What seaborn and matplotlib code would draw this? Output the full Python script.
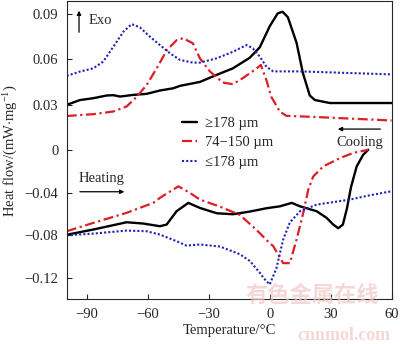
import numpy as np
import pandas as pd
import matplotlib
matplotlib.use("Agg")
import matplotlib.pyplot as plt
import seaborn as sns

# ---------------- data ----------------
# Cooling curves (upper group)
cool_black_T = [-100, -93.4, -86.9, -80.3, -77, -73.7, -67.2, -60.6, -54.1, -47.5, -44.2,
                -34.4, -26.1, -18.2, -9.9, -4.9, 0, 3.9, 6.3, 8.9, 13.2, 16.3, 19.7, 22.2,
                29.6, 44.4, 60]
cool_black_Q = [0.0298, 0.033, 0.0342, 0.036, 0.0362, 0.0353, 0.0364, 0.0371, 0.0393, 0.0408,
                0.0424, 0.045, 0.0497, 0.054, 0.061, 0.068, 0.082, 0.0905, 0.0916, 0.088,
                0.071, 0.051, 0.036, 0.033, 0.031, 0.031, 0.031]

cool_red_T = [-100, -86.9, -77, -70.5, -65.6, -60.6, -55.7, -50.7, -45.8, -42.7, -37.9,
              -34.4, -29.5, -23.1, -18.2, -13.3, -6.4, -4.4, -1.6, 0.8, 4.9, 8.2, 23, 60]
cool_red_Q = [0.0224, 0.0236, 0.0254, 0.0287, 0.035, 0.043, 0.054, 0.066, 0.0728, 0.074,
              0.0707, 0.0607, 0.052, 0.0446, 0.0435, 0.0475, 0.054, 0.0563, 0.046, 0.035,
              0.0254, 0.0225, 0.0217, 0.0194]

cool_blue_T = [-100, -93.4, -86.9, -82, -77, -72.1, -68, -63.9, -59, -54.1, -49.1, -44.2,
               -37.8, -34.4, -26.1, -18.2, -11.4, -8.3, -4.9, -1.6, 1.7, 14.9, 60]
cool_blue_Q = [0.049, 0.0519, 0.054, 0.0585, 0.0684, 0.0783, 0.0834, 0.0812, 0.075, 0.0695,
               0.064, 0.0596, 0.0578, 0.0578, 0.0607, 0.065, 0.0695, 0.0673, 0.0618, 0.055,
               0.052, 0.052, 0.050]

# Heating curves (lower group)
heat_black_T = [-100, -86.9, -70.5, -62.3, -54.1, -50.8, -45.9, -40.1, -34.4, -26.1, -18.1,
                -9.8, -1.6, 5, 10.8, 14.9, 23.1, 28, 31.3, 33.7, 36, 38, 40, 42.8, 46, 48.5]
heat_black_Q = [-0.0795, -0.0746, -0.0678, -0.069, -0.0715, -0.070, -0.0575, -0.0497, -0.0544,
                -0.0594, -0.0603, -0.0578, -0.0547, -0.0529, -0.0497, -0.0529, -0.0575,
                -0.0637, -0.070, -0.0734, -0.070, -0.055, -0.035, -0.0156, -0.0047, 0.0]

heat_red_T = [-100, -86.9, -70.5, -57.4, -54.1, -45, -39.3, -34.4, -24.5, -14.7, -6.5, 0,
              1.7, 5, 6.6, 9.9, 13.2, 16.5, 19, 21.4, 26.3, 34.6, 41.1, 48.5]
heat_red_Q = [-0.0762, -0.0684, -0.059, -0.0497, -0.045, -0.0342, -0.0404, -0.0466, -0.0532,
              -0.061, -0.075, -0.0874, -0.090, -0.101, -0.106, -0.106, -0.084, -0.059,
              -0.037, -0.025, -0.0156, -0.0078, -0.003, 0.0]

heat_blue_T = [-100, -86.9, -70.5, -60.7, -54.1, -45.9, -41, -34.4, -24.5, -14.7, -9.8, -4.9,
               -3, 0, 3.3, 6.6, 9.9, 14.9, 23.1, 39.5, 48.5, 60]
heat_blue_Q = [-0.080, -0.0784, -0.0756, -0.0762, -0.0793, -0.0855, -0.0896, -0.0886, -0.0905,
               -0.0977, -0.104, -0.115, -0.12, -0.126, -0.1107, -0.084, -0.068, -0.0575,
               -0.0513, -0.0466, -0.0429, -0.0388]

labels = ["\u2265178 \u00b5m", "74\u2212150 \u00b5m", "\u2264178 \u00b5m"]
x_ticks = [-90, -60, -30, 0, 30, 60]
y_ticks = [0.09, 0.06, 0.03, 0, -0.04, -0.08, -0.12]
y_ticklabels = ["0.09", "0.06", "0.03", "0", "\u22120.04", "\u22120.08", "\u22120.12"]

# ---------------- style ----------------
sns.set_style("ticks")
plt.rcParams["font.family"] = ["Liberation Serif", "DejaVu Serif"]
plt.rcParams["mathtext.fontset"] = "custom"
plt.rcParams["mathtext.rm"] = "Liberation Serif"
plt.rcParams["mathtext.it"] = "Liberation Serif:italic"
plt.rcParams["axes.linewidth"] = 0.8
FS = 10.5

fig = plt.figure(figsize=(4.0, 3.44), dpi=100)
ax = fig.add_axes([0.1667, 0.1294, 0.8123, 0.8676])

K = 0.71
def fwd(y):
    y = np.asarray(y, dtype=float)
    return np.where(y >= 0, y, y * K)
def inv(y):
    y = np.asarray(y, dtype=float)
    return np.where(y >= 0, y, y / K)
ax.set_yscale("function", functions=(fwd, inv))

black = "#000000"
red = "#dc1f26"
blue = "#1f23b4"
dashdot = (0, (4.5, 1.6, 1, 1.6))
dotted = (0, (1, 1))

def draw(T, Q, color, ls, lw, label):
    df = pd.DataFrame({"T": T, "Q": Q})
    sns.lineplot(data=df, x="T", y="Q", ax=ax, color=color, linestyle=ls, linewidth=lw,
                 sort=False, estimator=None, label=label)

draw(cool_black_T, cool_black_Q, black, "-", 1.7, labels[0])
draw(cool_red_T, cool_red_Q, red, dashdot, 1.6, labels[1])
draw(cool_blue_T, cool_blue_Q, blue, dotted, 1.5, labels[2])
draw(heat_black_T, heat_black_Q, black, "-", 1.7, "_nolegend_")
draw(heat_red_T, heat_red_Q, red, dashdot, 1.6, "_nolegend_")
draw(heat_blue_T, heat_blue_Q, blue, dotted, 1.5, "_nolegend_")

ax.set_xlim(-100, 60)
ax.set_ylim(-0.14, 0.0987)
ax.set_xticks(x_ticks)
ax.set_xticklabels([str(v).replace("-", "\u2212") for v in x_ticks], fontsize=FS)
ax.set_yticks(y_ticks)
ax.set_yticklabels(y_ticklabels, fontsize=FS)
ax.minorticks_off()
ax.tick_params(direction="in", length=3.5, width=0.8, top=False, right=False)
ax.tick_params(axis="y", pad=6)
ax.tick_params(axis="x", pad=6)
for s in ax.spines.values():
    s.set_visible(True)
    s.set_linewidth(0.8)

ax.set_xlabel("Temperature/\u00b0C", fontsize=FS, labelpad=2)
ax.set_ylabel(r"Heat flow/(mW$\cdot$mg$^{-1}$)", fontsize=FS, labelpad=3)

leg = ax.legend(loc="upper left", bbox_to_anchor=(0.355, 0.612), frameon=False,
                fontsize=FS, handlelength=1.0, handletextpad=0.55, labelspacing=0.42,
                borderpad=0, borderaxespad=0)

# annotations
ax.annotate("", xy=(0.038, 0.977), xytext=(0.038, 0.886), xycoords="axes fraction",
            arrowprops=dict(arrowstyle="-|>", color="black", lw=0.9, mutation_scale=6))
ax.text(0.066, 0.936, "Exo", transform=ax.transAxes, fontsize=FS, va="center", ha="left")

ax.annotate("", xy=(0.826, 0.571), xytext=(0.974, 0.571), xycoords="axes fraction",
            arrowprops=dict(arrowstyle="-|>", color="black", lw=0.9, mutation_scale=6))
ax.text(0.9025, 0.525, "Cooling", transform=ax.transAxes, fontsize=FS, va="center", ha="center")

ax.annotate("", xy=(0.186, 0.361), xytext=(0.032, 0.361), xycoords="axes fraction",
            arrowprops=dict(arrowstyle="-|>", color="black", lw=0.9, mutation_scale=6))
ax.text(0.108, 0.407, "Heating", transform=ax.transAxes, fontsize=FS, va="center", ha="center")

# watermark (kept clear of the tick labels)
fig.text(0.78, 0.14, "有色金属在线", fontsize=16, color="#f0c8c8", alpha=0.7,
         ha="center", va="center", family=["Noto Sans CJK SC", "DejaVu Sans"],
         fontweight="bold", zorder=10)
fig.text(0.86, 0.024, "cnnmol.com", fontsize=13, color="#f0c8c8", alpha=0.7,
         ha="center", va="center", family=["Liberation Serif"], fontweight="bold", zorder=10)

fig.savefig("out.png", dpi=100)
